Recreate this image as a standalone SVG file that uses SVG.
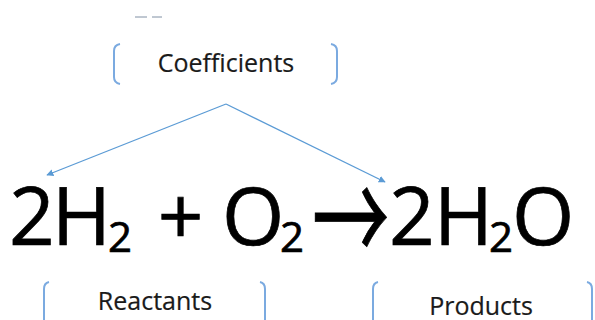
<svg xmlns="http://www.w3.org/2000/svg" width="595" height="320" viewBox="0 0 595 320">
<defs>
<style>
.lbl{font-family:"Open Sans","Noto Sans",sans-serif;font-size:25px;fill:#1a1a1a;stroke:#1a1a1a;stroke-width:0.2;text-anchor:middle}
.br{fill:none;stroke:#7BAAE0;stroke-width:2}
.eq{font-family:"Open Sans","Noto Sans",sans-serif;font-size:80px;fill:#000;stroke:#000;stroke-width:0.7}
.sub{font-size:42px}
.arr{font-family:"Noto Sans CJK SC",sans-serif;font-size:90px;fill:#000;stroke:#000;stroke-width:0.6}
.con{fill:none;stroke:#5B9BD5;stroke-width:1.3}
</style>
<marker id="ah" viewBox="0 0 10 10" refX="9" refY="5" markerWidth="7" markerHeight="7" markerUnits="userSpaceOnUse" orient="auto">
<path d="M0,0 L10,5 L0,10 z" fill="#5B9BD5"/>
</marker>
</defs>
<rect width="595" height="320" fill="#fff"/>
<g id="marks">
<line x1="135" y1="17" x2="147" y2="17" stroke="#8090A4" stroke-width="1"/>
<line x1="152" y1="17" x2="162" y2="17" stroke="#8090A4" stroke-width="1"/>
</g>
<g id="coefficients">
<path class="br" d="M120,44 Q114,45 114,51 L114,77 Q114,83 120,84"/>
<path class="br" d="M331,44 Q337,45 337,51 L337,77 Q337,83 331,84"/>
<text class="lbl" x="226" y="72">Coefficients</text>
</g>
<g id="equation">
<text class="eq"><tspan x="9" y="245">2</tspan><tspan x="52" y="245">H</tspan><tspan class="sub" x="108" y="252">2</tspan><tspan x="137" y="245"> + </tspan><tspan x="222" y="245">O</tspan><tspan class="sub" x="280" y="252">2</tspan></text>
<text class="arr" transform="translate(312,217) scale(0.86,1.4)" x="0" y="34">→</text>
<text class="eq"><tspan x="389" y="245">2</tspan><tspan x="434" y="245">H</tspan><tspan class="sub" x="489" y="252">2</tspan><tspan x="512" y="245">O</tspan></text>
</g>
<g id="reactants">
<path class="br" d="M49,282 Q44,283 44,289 L44,322"/>
<path class="br" d="M260,282 Q265,283 265,289 L265,322"/>
<text class="lbl" x="155" y="310">Reactants</text>
</g>
<g id="products">
<path class="br" d="M378,282 Q373,283 373,289 L373,322"/>
<path class="br" d="M587,282 Q592,283 592,289 L592,322"/>
<text class="lbl" x="481" y="315">Products</text>
</g>
<g id="connectors">
<line class="con" x1="226" y1="104" x2="47" y2="175" marker-end="url(#ah)"/>
<line class="con" x1="226" y1="104" x2="385" y2="182" marker-end="url(#ah)"/>
</g>
</svg>
